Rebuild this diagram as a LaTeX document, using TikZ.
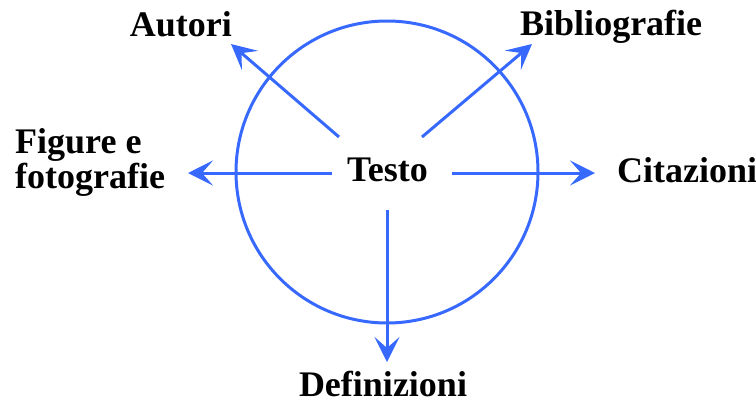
\documentclass[tikz,border=0pt]{standalone}
\usepackage{fontspec}
\setmainfont{Liberation Serif}
\usetikzlibrary{arrows.meta}
\definecolor{arrowblue}{RGB}{55,105,255}
\begin{document}
\begin{tikzpicture}[x=1pt,y=-1pt,
  lbl/.style={inner sep=0pt,font=\fontsize{36}{33}\selectfont\bfseries},
  conn/.style={draw=arrowblue,line width=3pt,-{Stealth[length=25pt,width=25pt,inset=11pt]}}]
\useasboundingbox (0,0) rectangle (756,405);
\draw[arrowblue,line width=3pt] (387,172) circle[radius=151];
\node[lbl,anchor=base] (testo) at (387.5,181) {Testo};
\node[lbl,anchor=base east] (autori) at (232,36) {Autori};
\node[lbl,anchor=base west] (biblio) at (520,35) {Bibliografie};
\node[lbl,anchor=base west,align=left] (figure) at (15,188) {Figure e\\fotografie};
\node[lbl,anchor=base west] (citaz) at (617,182) {Citazioni};
\node[lbl,anchor=base] (defin) at (383,396) {Definizioni};
\coordinate (sA) at (339,137); \coordinate (tA) at (231,44);
\coordinate (sB) at (422,137); \coordinate (tB) at (532,44);
\coordinate (sF) at (332,173); \coordinate (tF) at (188,173);
\coordinate (sC) at (452,173); \coordinate (tC) at (595,173);
\coordinate (sD) at (387,210); \coordinate (tD) at (387,362);
\draw[conn] (sA) -- (tA);
\draw[conn] (sB) -- (tB);
\draw[conn] (sF) -- (tF);
\draw[conn] (sC) -- (tC);
\draw[conn] (sD) -- (tD);
\end{tikzpicture}
\end{document}
